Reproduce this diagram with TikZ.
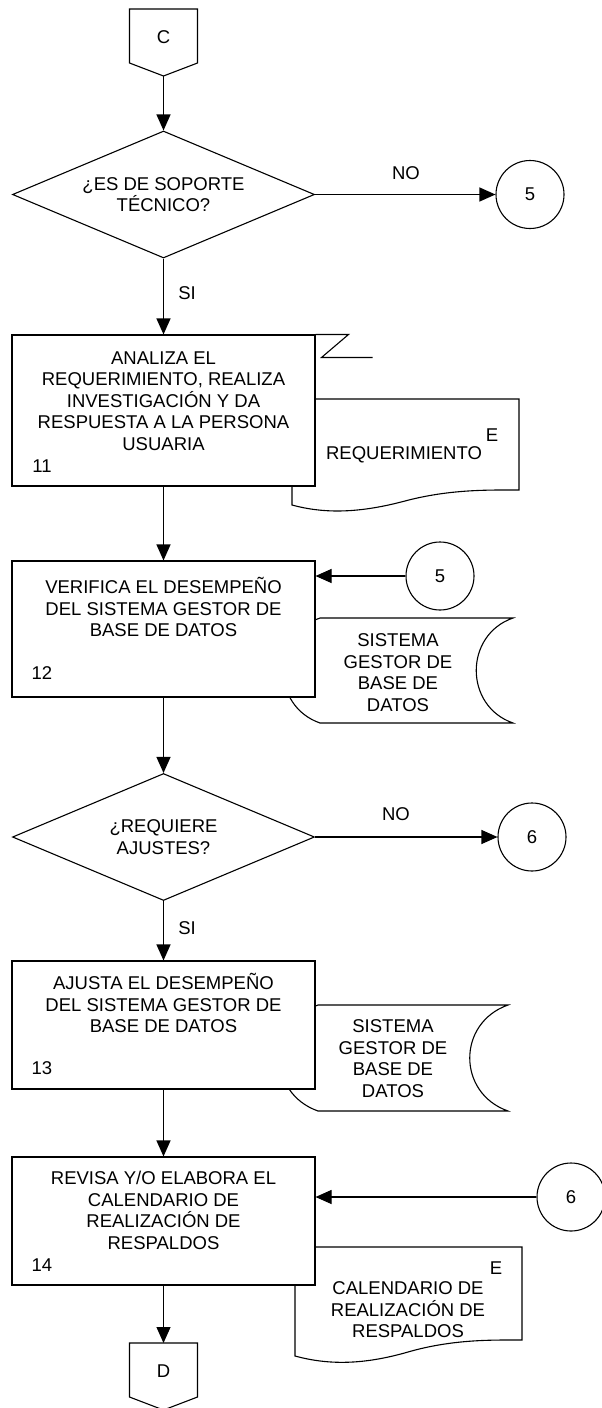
\documentclass[tikz,border=0pt]{standalone}
\usepackage{fontspec}
\setmainfont{Liberation Sans}
\usetikzlibrary{shapes.geometric,arrows.meta}
\tikzset{
  ln/.style={line width=1.1pt},
  arr/.style={ln,-{Triangle[length=16pt,width=14pt]}},
  txt/.style={font=\fontsize{18.5}{21.5}\selectfont,align=center,inner sep=0pt},
  proc/.style={draw,ln,fill=white,rectangle,minimum width=303pt,inner sep=0pt},
  dec/.style={draw,ln,fill=white,diamond,inner sep=0pt,minimum width=302pt,minimum height=127pt,aspect=2.38},
  conn/.style={draw,ln,circle,minimum size=68pt,inner sep=0pt},
  datastore/.style={draw,ln,fill=white},
}
\begin{document}
\begin{tikzpicture}[x=1pt,y=-1pt]
\useasboundingbox (0,0) rectangle (602,1408);
% --- off-page connector C
\draw[ln] (129.5,9) -- (197.5,9) -- (197.5,63) -- (163.5,76) -- (129.5,63) -- cycle;
\node[txt] (C) at (163.5,37) {C};
\coordinate (Ctip) at (163.5,76);
% --- decision 1
\node[dec,txt] (d1) at (163.5,194.5) {¿ES DE SOPORTE\\TÉCNICO?};
\node[conn,txt] (c5a) at (530,194.5) {5};
\draw[arr] (Ctip) -- (d1.north);
\draw[arr] (d1.east) -- (d1.east -| c5a.west);
\node[txt] (no1) at (406,173) {NO};
% --- document 1 (behind box 11)
\draw[datastore] (292,399) -- (519,399) -- (519,490)
  .. controls (490,490) and (450,489) .. (405,501)
  .. controls (360,513) and (325,514) .. (292,505) -- cycle;
\node[txt] (doc1e) at (492,435) {E};
\node[txt] (doc1) at (404,455) {REQUERIMIENTO};
% --- box 11
\node[proc,minimum height=151pt] (b11) at (163.5,410.5) {};
\draw[ln] (b11.north east) -- ++(33,0) -- ++(-27,23) -- ++(51,0);
\node[txt] (t11) at (163.5,401) {ANALIZA EL\\REQUERIMIENTO, REALIZA\\INVESTIGACIÓN Y DA\\RESPUESTA A LA PERSONA\\USUARIA};
\node[txt] (n11) at (42,466) {11};
\draw[arr] (d1.south) -- (b11.north);
\node[txt] (si1) at (187,293) {SI};
% --- data store 1 (behind box 12)
\draw[datastore] (320,618) -- (513,618) .. controls (464,635) and (464,706) .. (513,723)
  -- (320,723) .. controls (271,706) and (271,635) .. (320,618) -- cycle;
\node[txt] (db1) at (398,672.5) {SISTEMA\\GESTOR DE\\BASE DE\\DATOS};
% --- box 12
\node[proc,minimum height=136pt] (b12) at (163.5,629) {};
\node[txt] (t12) at (163.5,607) {VERIFICA EL DESEMPEÑO\\DEL SISTEMA GESTOR DE\\BASE DE DATOS};
\node[txt] (n12) at (42,673) {12};
\node[conn,txt] (c5b) at (440,576) {5};
\draw[arr] (c5b.west) -- (c5b.west -| b12.east);
\draw[arr] (b11.south) -- (b12.north);
% --- decision 2
\node[dec,txt] (d2) at (163.5,837) {¿REQUIERE\\AJUSTES?};
\draw[arr] (b12.south) -- (d2.north);
\node[conn,txt] (c6a) at (532,837) {6};
\draw[arr] (d2.east) -- (d2.east -| c6a.west);
\node[txt] (no2) at (396,814) {NO};
% --- data store 2 (behind box 13)
\draw[datastore] (318,1005) -- (508,1005) .. controls (457,1023) and (457,1093) .. (508,1111)
  -- (318,1111) .. controls (267,1093) and (267,1023) .. (318,1005) -- cycle;
\node[txt] (db2) at (393,1058.5) {SISTEMA\\GESTOR DE\\BASE DE\\DATOS};
% --- box 13
\node[proc,minimum height=128pt] (b13) at (163.5,1025) {};
\node[txt] (t13) at (163.5,1003) {AJUSTA EL DESEMPEÑO\\DEL SISTEMA GESTOR DE\\BASE DE DATOS};
\node[txt] (n13) at (42,1068) {13};
\draw[arr] (d2.south) -- (b13.north);
\node[txt] (si2) at (187,928) {SI};
% --- document 2 (behind box 14)
\draw[datastore] (295,1247) -- (522,1247) -- (522,1340)
  .. controls (493,1340) and (453,1339) .. (408,1352)
  .. controls (363,1365) and (328,1365) .. (295,1356) -- cycle;
\node[txt] (doc2e) at (496,1268) {E};
\node[txt] (doc2) at (408,1310) {CALENDARIO DE\\REALIZACIÓN DE\\RESPALDOS};
% --- box 14
\node[proc,minimum height=128pt] (b14) at (163.5,1221) {};
\node[txt] (t14) at (163.5,1210.5) {REVISA Y/O ELABORA EL\\CALENDARIO DE\\REALIZACIÓN DE\\RESPALDOS};
\node[txt] (n14) at (42,1265) {14};
\draw[arr] (b13.south) -- (b14.north);
\node[conn,txt] (c6b) at (571,1197) {6};
\draw[arr] (c6b.west) -- (c6b.west -| b14.east);
% --- off-page connector D
\draw[ln] (129.5,1343) -- (197.5,1343) -- (197.5,1397) -- (163.5,1410) -- (129.5,1397) -- cycle;
\node[txt] (D) at (163.5,1371) {D};
\coordinate (Dtop) at (163.5,1343);
\draw[arr] (b14.south) -- (Dtop);
\end{tikzpicture}
\end{document}
